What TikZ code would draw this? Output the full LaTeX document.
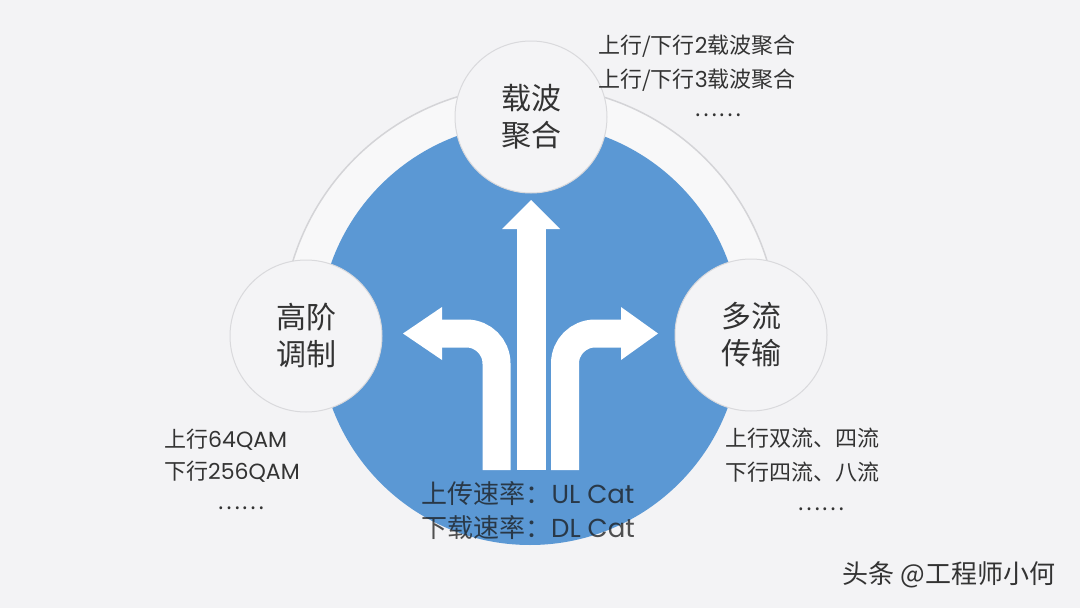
\documentclass[tikz,border=0pt]{standalone}
\usepackage{fontspec}
\setmainfont{Noto Sans CJK SC}
\newfontfamily\latfont{Poppins}
\definecolor{bg}{HTML}{F3F3F5}
\definecolor{myblue}{HTML}{5B98D4}
\definecolor{ringfill}{HTML}{F8F8F9}
\definecolor{ringline}{HTML}{D4D4D7}
\definecolor{circfill}{HTML}{F4F4F6}
\definecolor{circline}{HTML}{D9D9DC}
\definecolor{txt}{HTML}{333333}
\begin{document}
\begin{tikzpicture}[x=1pt,y=-1pt,
  bubble/.style={circle, minimum size=152pt, inner sep=0pt, fill=circfill, draw=circline, line width=1pt,
    align=center, text=txt, font=\fontsize{30}{37}\selectfont},
  note/.style={text=txt, inner sep=0pt, font=\fontsize{22}{26}\selectfont},
  ratetext/.style={text=black!90, opacity=0.75, inner sep=0pt, font=\fontsize{26}{30}\selectfont},
  arrowbody/.style={draw=white, line width=28pt, rounded corners=30pt, line cap=butt},
  arrowhead/.style={fill=white}
]
\useasboundingbox (0,0) rectangle (1080,608);
\fill[bg] (0,0) rectangle (1080,608);
% outer ring (upper half)
\fill[ringfill] (282,334) arc[start angle=180,end angle=360,radius=248] -- cycle;
\draw[ringline, line width=1.5pt] (282,334) arc[start angle=180,end angle=360,radius=248];
% blue disc
\fill[myblue] (530,334) circle[radius=211];
% arrows
\draw[arrowbody] (496.5,470) -- (496.5,333.5) -- (440,333.5);
\fill[arrowhead] (403,333.5) -- (442,307) -- (442,360) -- cycle;
\fill[white] (517,470) rectangle (546,227);
\fill[arrowhead] (531,200) -- (502,229) -- (560,229) -- cycle;
\draw[arrowbody] (565,470) -- (565,333.5) -- (623,333.5);
\fill[arrowhead] (658,333.5) -- (621,307) -- (621,360) -- cycle;
% bubbles
\node[bubble] (top) at (531,117) {载波\\聚合};
\node[bubble] (left) at (306,336) {高阶\\调制};
\node[bubble] (right) at (751,335) {多流\\传输};
% notes
\node[note, anchor=west] (t1) at (598,46) {上行/下行{\latfont 2}载波聚合};
\node[note, anchor=west] (t2) at (598,80) {上行/下行{\latfont 3}载波聚合};
\node[note] (t3) at (718,115) {……};
\node[note, anchor=west] (l1) at (164,440) {上行{\latfont 64QAM}};
\node[note, anchor=west] (l2) at (164,472) {下行{\latfont 256QAM}};
\node[note] (l3) at (241,508) {……};
\node[note, anchor=west] (r1) at (725,438) {上行双流、四流};
\node[note, anchor=west] (r2) at (725,472) {下行四流、八流};
\node[note] (r3) at (821,509) {……};
\node[ratetext] (ul) at (528,494) {上传速率：{\latfont UL Cat}};
\node[ratetext] (dl) at (528,528) {下载速率：{\latfont DL Cat}};
\node[text=txt, inner sep=0pt, font=\fontsize{26}{30}\selectfont] (wm) at (949,575) {头条 @工程师小何};
\end{tikzpicture}
\end{document}
